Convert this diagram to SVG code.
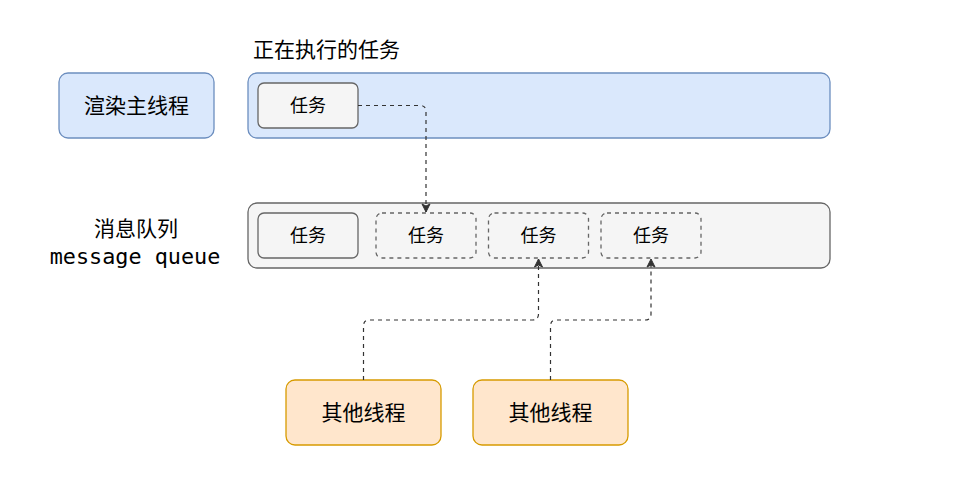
<svg xmlns="http://www.w3.org/2000/svg" width="975" height="486" viewBox="0 0 975 486">
<style>
.t{font-family:"Liberation Sans","Noto Sans CJK SC",sans-serif;fill:#000;text-anchor:middle;dominant-baseline:central}
.blue{fill:#dae8fc;stroke:#6c8ebf;stroke-width:1.3}
.gray{fill:#f5f5f5;stroke:#666666;stroke-width:1.3}
.task{fill:#f5f5f5;stroke:#666666;stroke-width:1.3}
.dtask{fill:none;stroke:#666666;stroke-width:1.3;stroke-dasharray:4 4}
.orange{fill:#ffe6cc;stroke:#d79b00;stroke-width:1.3}
.conn{fill:none;stroke:#333333;stroke-width:1.2;stroke-dasharray:4 4}
</style>
<defs>
<marker id="arr" markerWidth="10" markerHeight="10" refX="9" refY="5" orient="auto" markerUnits="userSpaceOnUse">
<path d="M1,1 L9,5 L1,9 L3,5 Z" fill="#333333" stroke="#333333" stroke-width="1"/>
</marker>
</defs>
<rect width="975" height="486" fill="#ffffff"/>
<g id="main-thread">
<rect class="blue" x="59" y="73" width="155" height="65" rx="9"/>
<text class="t" x="136.5" y="105.5" font-size="21">渲染主线程</text>
</g>
<g id="running">
<text class="t" x="253" y="49" font-size="21" text-anchor="start" style="text-anchor:start">正在执行的任务</text>
<rect class="blue" x="248" y="73" width="582" height="65" rx="9"/>
</g>
<g id="running-task">
<rect class="task" x="258" y="83" width="100" height="45" rx="6"/>
<text class="t" x="308" y="105.5" font-size="18">任务</text>
</g>
<g id="queue-label">
<text class="t" x="136" y="228" font-size="21">消息队列</text>
<text class="t" x="135" y="256" font-size="21.8" style="font-family:'DejaVu Sans Mono','Liberation Mono',monospace">message queue</text>
</g>
<g id="queue">
<rect class="gray" x="248" y="203" width="582" height="65" rx="9"/>
</g>
<g id="q1">
<rect class="task" x="258" y="213" width="100" height="45" rx="6"/>
<text class="t" x="308" y="235.5" font-size="18">任务</text>
</g>
<g id="q2">
<rect class="dtask" x="376" y="213" width="100" height="45" rx="6"/>
<text class="t" x="426" y="235.5" font-size="18">任务</text>
</g>
<g id="q3">
<rect class="dtask" x="488.5" y="213" width="100" height="45" rx="6"/>
<text class="t" x="538.5" y="235.5" font-size="18">任务</text>
</g>
<g id="q4">
<rect class="dtask" x="601" y="213" width="100" height="45" rx="6"/>
<text class="t" x="651" y="235.5" font-size="18">任务</text>
</g>
<g id="other1">
<rect class="orange" x="286" y="380" width="155" height="65" rx="9"/>
<text class="t" x="363.5" y="412.5" font-size="21">其他线程</text>
</g>
<g id="other2">
<rect class="orange" x="473" y="380" width="155" height="65" rx="9"/>
<text class="t" x="550.5" y="412.5" font-size="21">其他线程</text>
</g>
<g id="connectors">
<path class="conn" d="M358,105.5 L420,105.5 Q426,105.5 426,111.5 L426,212" marker-end="url(#arr)"/>
<path class="conn" d="M363.5,380 L363.5,326 Q363.5,320 369.5,320 L532.5,320 Q538.5,320 538.5,314 L538.5,259" marker-end="url(#arr)"/>
<path class="conn" d="M550.5,380 L550.5,326 Q550.5,320 556.5,320 L645,320 Q651,320 651,314 L651,259" marker-end="url(#arr)"/>
</g>
</svg>
